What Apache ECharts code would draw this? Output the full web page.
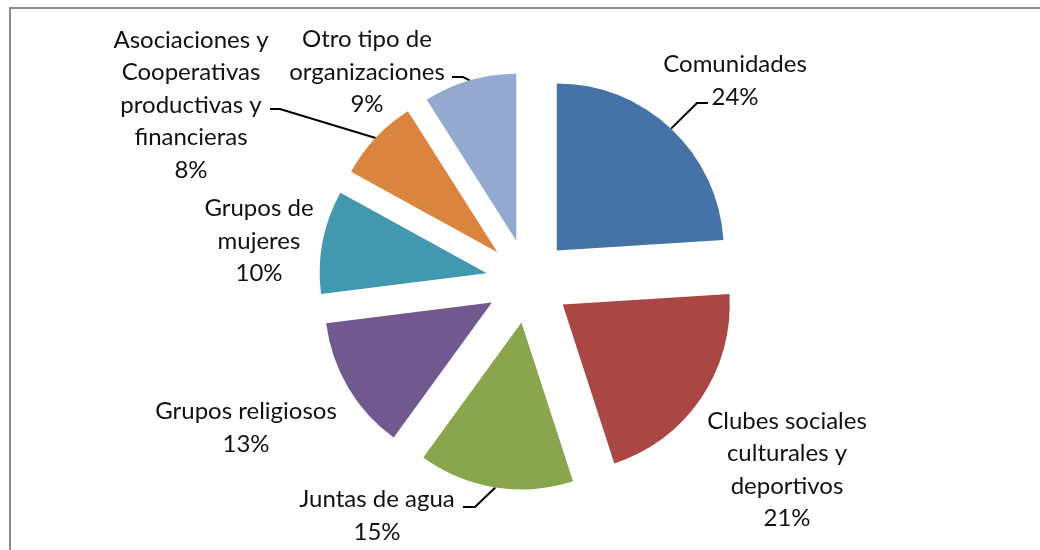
<!DOCTYPE html>
<html lang="es">
<head>
  <meta charset="UTF-8">
  <title>organizaciones</title>
  <style>
    html, body { margin: 0; padding: 0; background: #fff; }
    #chart { width: 1040px; height: 550px; }
  </style>
</head>
<body>
  <div id="chart"></div>
  <script src="https://cdn.jsdelivr.net/npm/echarts@6/dist/echarts.min.js"></script>
  <script>
    // datos del grafico
    var categories = [
      'Comunidades',
      'Clubes sociales\nculturales y\ndeportivos',
      'Juntas de agua',
      'Grupos religiosos',
      'Grupos de\nmujeres',
      'Asociaciones y\nCooperativas\nproductivas y\nfinancieras',
      'Otro tipo de\norganizaciones'
    ];
    var values = [24, 21, 15, 13, 10, 8, 9];
    var colors = ['#4572A7', '#AA4643', '#89A54E', '#71588F', '#4198AF', '#DB843D', '#93A9CF'];

    // donde va cada etiqueta (centro del texto) y el codo de su linea guia
    var labelAt = [[735, 81], [787, 470], [377, 516], [246, 428], [259, 241], [191, 105], [367, 72]];
    var lineBend = [[[697, 103], [708, 103]], null, [[475, 507], [463, 507]], null, null,
                    [[280, 109], [270, 109]], [[463, 77], [452, 77]]];

    var CENTER = [528, 281];
    var RADIUS = 167;
    var EXPLODE = 42;

    var myChart = echarts.init(document.getElementById('chart'));

    var option = {
      animation: false,
      graphic: [{
        type: 'rect',
        shape: { x: 10, y: 8, width: 1100, height: 600 },
        style: { fill: 'none', stroke: '#8c8c8c', lineWidth: 2 },
        silent: true
      }],
      series: [{
        // porciones separadas
        type: 'pie',
        center: CENTER,
        radius: RADIUS,
        startAngle: 90,
        clockwise: true,
        selectedMode: 'multiple',
        selectedOffset: EXPLODE,
        emphasis: { disabled: true },
        label: { show: false },
        labelLine: { show: false },
        data: categories.map(function (c, i) {
          return { name: c, value: values[i], selected: true, itemStyle: { color: colors[i] } };
        })
      }, {
        // solo etiquetas
        type: 'pie',
        center: CENTER,
        radius: RADIUS,
        startAngle: 90,
        clockwise: true,
        silent: true,
        percentPrecision: 0,
        avoidLabelOverlap: false,
        emphasis: { disabled: true },
        itemStyle: { color: 'rgba(0,0,0,0)' },
        label: {
          show: true,
          formatter: '{b}\n{d}%',
          fontFamily: 'Lato',
          fontSize: 24,
          lineHeight: 32.5,
          color: '#111',
          align: 'center'
        },
        labelLine: {
          show: true,
          lineStyle: { color: '#000', width: 2 }
        },
        labelLayout: function (params) {
          var i = params.dataIndex;
          var p = labelAt[i];
          var out = { x: p[0], y: p[1], align: 'center', verticalAlign: 'middle' };
          var pts = params.labelLinePoints;
          if (lineBend[i] && pts) {
            // punto del arco movido hacia fuera como la porcion
            var dx = pts[0][0] - CENTER[0], dy = pts[0][1] - CENTER[1];
            var len = Math.sqrt(dx * dx + dy * dy);
            var a = [pts[0][0] + dx / len * EXPLODE, pts[0][1] + dy / len * EXPLODE];
            out.labelLinePoints = [a, lineBend[i][0], lineBend[i][1]];
          }
          return out;
        },
        data: categories.map(function (c, i) {
          return { name: c, value: values[i], labelLine: { show: !!lineBend[i] } };
        })
      }]
    };

    myChart.setOption(option);
  </script>
</body>
</html>
